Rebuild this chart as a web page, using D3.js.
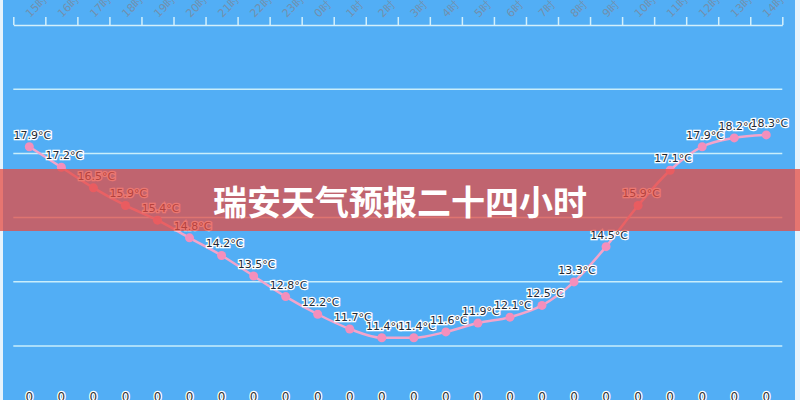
<!DOCTYPE html>
<html><head><meta charset="utf-8">
<script src="https://cdn.jsdelivr.net/npm/d3@7/dist/d3.min.js"></script>
<style>html,body{margin:0;padding:0;background:#e6f3fc;overflow:hidden}svg{display:block}</style>
</head><body>
<svg id="c" width="800" height="400"></svg>
<script>
const hours = ["15时","16时","17时","18时","19时","20时","21时","22时","23时","0时","1时","2时","3时","4时","5时","6时","7时","8时","9时","10时","11时","12时","13时","14时"];
const temps = [17.9,17.2,16.5,15.9,15.4,14.8,14.2,13.5,12.8,12.2,11.7,11.4,11.4,11.6,11.9,12.1,12.5,13.3,14.5,15.9,17.1,17.9,18.2,18.3];
const bottomLabels = ["0","0","0","0","0","0","0","0","0","0","0","0","0","0","0","0","0","0","0","0","0","0","0","0"];
const yMin = 11.12, yMax = 22.04, splitNumber = 5;
const title = "瑞安天气预报二十四小时";

(function(){
const svg = d3.select("#c");
const W = 800, H = 400;
const pl = 13.3, pr = 782.3, pt = 25, pb = 346;

svg.append("rect").attr("x",3).attr("y",0).attr("width",792).attr("height",H).attr("fill","#52aef5");

const x = d3.scaleBand().domain(hours).range([pl,pr]);
const xb = d3.scaleLinear().domain([0,hours.length]).range([pl,pr]);
const y = d3.scaleLinear().domain([yMin,yMax]).range([pb,pt]);

// grid lines
const gridVals = d3.range(0,splitNumber).map(i => yMin + i*(yMax-yMin)/splitNumber);
svg.append("g").selectAll("line").data(gridVals).join("line")
  .attr("x1",pl).attr("x2",pr)
  .attr("y1",d=>y(d)).attr("y2",d=>y(d))
  .attr("stroke","#c9eefb").attr("stroke-width",1.5);

// top axis
const ax = svg.append("g").attr("transform",`translate(0,${pt})`)
  .call(d3.axisTop(xb).tickValues(d3.range(0,hours.length+1)).tickFormat("").tickSize(8).tickSizeOuter(0));
ax.select(".domain").attr("stroke","#d4f0fb").attr("stroke-width",1.5);
ax.selectAll(".tick line").attr("stroke","#d4f0fb").attr("stroke-width",1.5);

svg.append("g").selectAll("text").data(hours).join("text")
  .attr("transform",d=>`translate(${x(d)+x.bandwidth()/2+1},${pt-7}) rotate(-45)`)
  .attr("text-anchor","start")
  .attr("font-family","DejaVu Sans, sans-serif").attr("font-size",11)
  .attr("fill","#7390ad")
  .text(d=>d);

// bottom labels
svg.append("g").selectAll("text").data(bottomLabels).join("text")
  .attr("x",(d,i)=>x(hours[i])+x.bandwidth()/2)
  .attr("y",401)
  .attr("text-anchor","middle")
  .attr("font-family","DejaVu Sans, sans-serif").attr("font-size",12)
  .attr("fill","#333").attr("stroke","#fff").attr("stroke-width",2.5).attr("paint-order","stroke")
  .text(d=>d);

// line
const cx = (d,i)=>x(hours[i])+x.bandwidth()/2;
const line = d3.line().x((d,i)=>cx(d,i)).y(d=>y(d)).curve(d3.curveMonotoneX);
svg.append("path").datum(temps).attr("d",line)
  .attr("fill","none").attr("stroke","#f3a4cb").attr("stroke-width",2.5);
svg.append("g").selectAll("circle").data(temps).join("circle")
  .attr("cx",cx).attr("cy",d=>y(d)).attr("r",4.5).attr("fill","#f48fbc");

svg.append("g").selectAll("text").data(temps).join("text")
  .attr("x",(d,i)=>cx(d,i)+3).attr("y",d=>y(d)-8)
  .attr("text-anchor","middle")
  .attr("font-family","DejaVu Sans, sans-serif").attr("font-size",11)
  .attr("fill","#1e2a36").attr("stroke","#fff").attr("stroke-width",2.5).attr("paint-order","stroke")
  .text(d=>d.toFixed(1)+"°C");

// banner
svg.append("rect").attr("x",0).attr("y",169).attr("width",W).attr("height",62)
  .attr("fill","rgba(229,75,65,0.75)");
svg.append("text").attr("x",400).attr("y",200)
  .attr("text-anchor","middle").attr("dominant-baseline","central")
  .attr("font-family","Noto Sans CJK SC, sans-serif").attr("font-weight","bold")
  .attr("font-size",34).attr("fill","#fff").text(title);
})();
</script>
</body></html>
